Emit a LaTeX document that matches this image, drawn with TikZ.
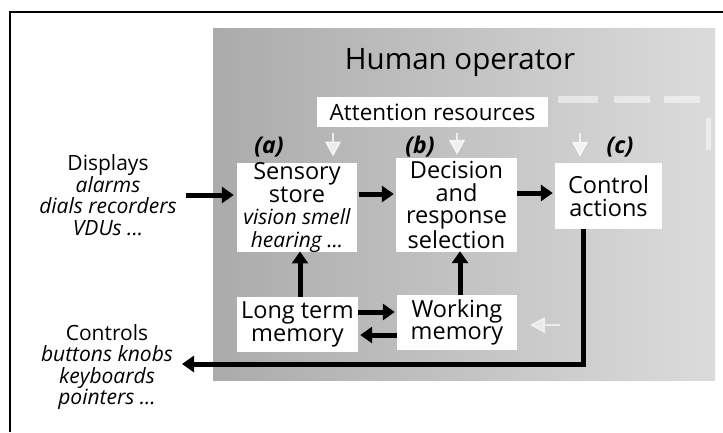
\documentclass[tikz,border=0pt]{standalone}
\usepackage{fontspec}
\setmainfont{Open Sans}
\usetikzlibrary{arrows.meta}
\begin{document}
\begin{tikzpicture}[x=1pt,y=-1pt,
  box/.style={fill=white, inner sep=0pt, align=center, font=\fontsize{23.5}{22.5}\selectfont},
  side/.style={inner sep=0pt, align=center, font=\fontsize{21}{21.5}\selectfont},
  tag/.style={inner sep=0pt, font=\fontsize{23}{24}\selectfont\bfseries\itshape},
  arr/.style={line width=5pt, -{Triangle[length=12pt,width=16pt]}},
  ghost/.style={white, opacity=0.5},
  gharr/.style={white, opacity=0.75, line width=1.5pt, -{Triangle[length=15pt,width=16pt]}}]
\useasboundingbox (0,0) rectangle (723,432);
\fill[white] (0,0) rectangle (723,432);
% frame (top and left)
\draw[line width=2.5pt] (10,432) -- (10,12) -- (723,12);
% human operator region
\shade[left color=black!33, right color=black!14] (213,28) rectangle (715,380);
\node[inner sep=0pt, font=\fontsize{29.5}{30}\selectfont] (title) at (460,63) {Human operator};
% ghost marks
\fill[ghost] (558,96) rectangle (598,103);
\fill[ghost] (614,96) rectangle (650,103);
\fill[ghost] (664,96) rectangle (700,103);
\fill[ghost] (706,118) rectangle (711,150);
% boxes
\node[box, font=\fontsize{22.5}{22}\selectfont, minimum width=231pt, minimum height=30pt] (att) at (432.5,112) {Attention resources};
\node[box, minimum width=120pt, minimum height=89pt] (ss) at (297,207.5) {Sensory\\store\\{\fontsize{21}{22}\selectfont\itshape vision smell}\\{\fontsize{21}{22}\selectfont\itshape hearing ...}};
\node[box, minimum width=121pt, minimum height=94pt] (dec) at (456.5,205) {Decision\\and\\response\\selection};
\node[box, minimum width=107pt, minimum height=66pt] (ctl) at (608.5,196) {Control\\actions};
\node[box, minimum width=121pt, minimum height=55pt] (ltm) at (297.5,324.5) {Long term\\memory};
\node[box, minimum width=120pt, minimum height=55pt] (wm) at (457,322.5) {Working\\memory};
% tags
\node[tag] (ta) at (269,147) {(a)};
\node[tag] (tb) at (420,147) {(b)};
\node[tag] (tc) at (620,147) {(c)};
% side texts
\node[side] (disp) at (108,195) {Displays\\{\itshape alarms}\\{\itshape dials recorders}\\{\itshape VDUs ...}};
\node[side] (ctrls) at (107,367) {Controls\\{\itshape buttons knobs}\\{\itshape keyboards}\\{\itshape pointers ...}};
% attention arrows (faint)
\coordinate (xa) at (333,0);
\coordinate (xb) at (457,0);
\coordinate (xc) at (580,0);
\draw[gharr] ([yshift=-6pt]att.south -| xa) -- ([yshift=6pt]ss.north -| xa);
\draw[gharr] ([yshift=-6pt]att.south -| xb) -- ([yshift=3pt]dec.north -| xb);
\draw[gharr] ([yshift=-6pt]att.south -| xc) -- ([yshift=6pt]ctl.north -| xc);
% faint left arrow
\coordinate (g1) at (560,325);
\coordinate (g2) at (530,325);
\draw[gharr, opacity=0.6] (g1) -- (g2);
% main arrows
\coordinate (d0) at (186,195);
\draw[arr] (d0) -- ([xshift=-3pt]d0 -| ss.west);
\coordinate (y1) at (0,194);
\draw[arr] ([xshift=2pt]ss.east |- y1) -- ([xshift=-2pt]dec.west |- y1);
\coordinate (y2) at (0,193);
\draw[arr] (dec.east |- y2) -- ([xshift=-2pt]ctl.west |- y2);
\coordinate (x1) at (300,0);
\draw[arr] (ltm.north -| x1) -- ([yshift=1pt]ss.south -| x1);
\coordinate (x2) at (460,0);
\draw[arr] (wm.north -| x2) -- ([yshift=1pt]dec.south -| x2);
\coordinate (y3) at (0,312);
\draw[arr] (ltm.east |- y3) -- ([xshift=-2pt]wm.west |- y3);
\coordinate (y4) at (0,335);
\draw[arr] (wm.west |- y4) -- ([xshift=2pt]ltm.east |- y4);
% feedback to controls
\coordinate (cx) at (583,0);
\coordinate (cc) at (583,364);
\coordinate (ce) at (182,364);
\draw[arr] (ctl.south -| cx) -- (cc) -- (ce);
\end{tikzpicture}
\end{document}
